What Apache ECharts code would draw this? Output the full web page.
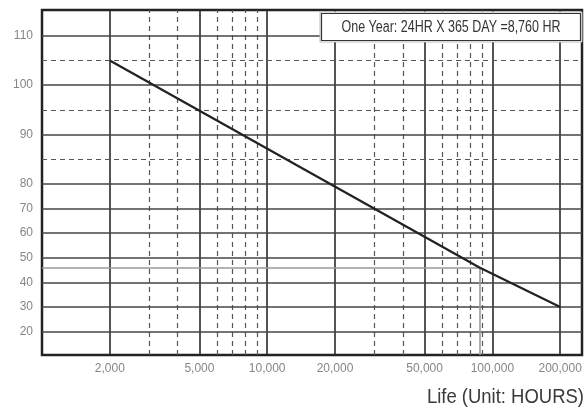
<!DOCTYPE html>
<html><head><meta charset="utf-8">
<script src="https://cdn.jsdelivr.net/npm/echarts@6/dist/echarts.min.js"></script>
<style>html,body{margin:0;padding:0;background:#fff}#c{width:588px;height:412px}</style>
</head><body><div id="c"></div>
<script>
// ---- data ----
const lifeHours = [2000, 87600, 200000];
const lifeValue = [105, 46, 30];
const xLabelValues = [2000, 5000, 10000, 20000, 50000, 100000, 200000];
const xDashedValues = [3000, 4000, 6000, 7000, 8000, 9000, 30000, 40000, 60000, 70000, 80000, 90000];
const yLabelValues = [20, 30, 40, 50, 60, 70, 80, 90, 100, 110];
const yDashedValues = [85, 95, 105];
const markHours = 87600;
const markValue = 46;
const noteText = 'One Year: 24HR X 365 DAY =8,760 HR';
const xTitle = 'Life (Unit: HOURS)';

// y axis of the original is stretched 2x above 80
function ty(v) { return v <= 80 ? v : 80 + 2 * (v - 80); }
const X_MIN = 1000, X_MAX = 250000, Y_MIN = 10.5, Y_MAX = 150.5;

const solidStyle = {color: '#2a2a2a', width: 1.6, type: 'solid'};
const hSolidStyle = {color: '#444', width: 1.6, type: 'solid'};
const dashStyle = {color: '#555', width: 1.2, type: [5, 4]};
const gridLines = [];
xLabelValues.forEach(v => gridLines.push({xAxis: v, lineStyle: solidStyle}));
xDashedValues.forEach(v => gridLines.push({xAxis: v, lineStyle: dashStyle}));
yLabelValues.forEach(v => gridLines.push({yAxis: ty(v), lineStyle: hSolidStyle}));
yDashedValues.forEach(v => gridLines.push({yAxis: ty(v), lineStyle: dashStyle}));
const grayStyle = {color: '#9a9a9a', width: 1.6, type: 'solid'};
gridLines.push([{coord: [X_MIN, ty(markValue)], lineStyle: grayStyle}, {coord: [markHours, ty(markValue)]}]);
gridLines.push([{coord: [markHours, ty(markValue)], lineStyle: grayStyle}, {coord: [markHours, Y_MIN]}]);

const labelFont = {color: '#666', fontSize: 12, fontFamily: 'Liberation Sans, Arial, sans-serif'};

const chart = echarts.init(document.getElementById('c'), null, {renderer: 'canvas'});
chart.setOption({
  animation: false,
  backgroundColor: '#fff',
  grid: {left: 42, right: 6, top: 10, bottom: 57, show: true, borderColor: '#222', borderWidth: 2.5, backgroundColor: '#fff'},
  xAxis: {type: 'log', min: X_MIN, max: X_MAX, logBase: 10,
    axisLine: {show: false}, axisTick: {show: false}, axisLabel: {show: false}, splitLine: {show: false}},
  yAxis: {type: 'value', min: Y_MIN, max: Y_MAX,
    axisLine: {show: false}, axisTick: {show: false}, axisLabel: {show: false}, splitLine: {show: false}},
  graphic: [
    {type: 'text', x: 584, y: 397, scaleX: 0.88, z: 100,
      style: {text: xTitle, align: 'right', verticalAlign: 'middle',
        fontFamily: 'Liberation Sans, Arial, sans-serif', fontSize: 21, fill: '#3a3a3a'}},
    {type: 'rect', z: 100, shape: {x: 320, y: 12, width: 262, height: 30}, style: {fill: '#fff', stroke: '#bbb', lineWidth: 1}},
    {type: 'rect', z: 101, shape: {x: 321.5, y: 13.5, width: 259, height: 27}, style: {fill: '#fff', stroke: '#333', lineWidth: 1.2}},
    {type: 'text', z: 102, x: 451, y: 27.5, scaleX: 0.78, style: {text: noteText, align: 'center', verticalAlign: 'middle',
        fontFamily: 'Liberation Sans, Arial, sans-serif', fontSize: 16, fill: '#333'}}
  ],
  series: [
    {type: 'line', data: [], z: 1, silent: true,
      markLine: {silent: true, symbol: 'none', label: {show: false}, animation: false, data: gridLines}},
    {type: 'line', z: 5, symbol: 'none', lineStyle: {color: '#222', width: 2.2},
      data: lifeHours.map((h, i) => [h, ty(lifeValue[i])])},
    {type: 'scatter', symbolSize: 0, silent: true, z: 6,
      data: xLabelValues.map(v => [v, Y_MIN]),
      label: {show: true, position: 'bottom', distance: 8, ...labelFont,
        formatter: p => p.value[0].toLocaleString('en-US')}},
    {type: 'scatter', symbolSize: 0, silent: true, z: 6,
      data: yLabelValues.map(v => [X_MIN, ty(v)]),
      label: {show: true, position: 'left', distance: 9, ...labelFont,
        formatter: p => String(yLabelValues[p.dataIndex])}}
  ]
});
</script>
</body></html>
